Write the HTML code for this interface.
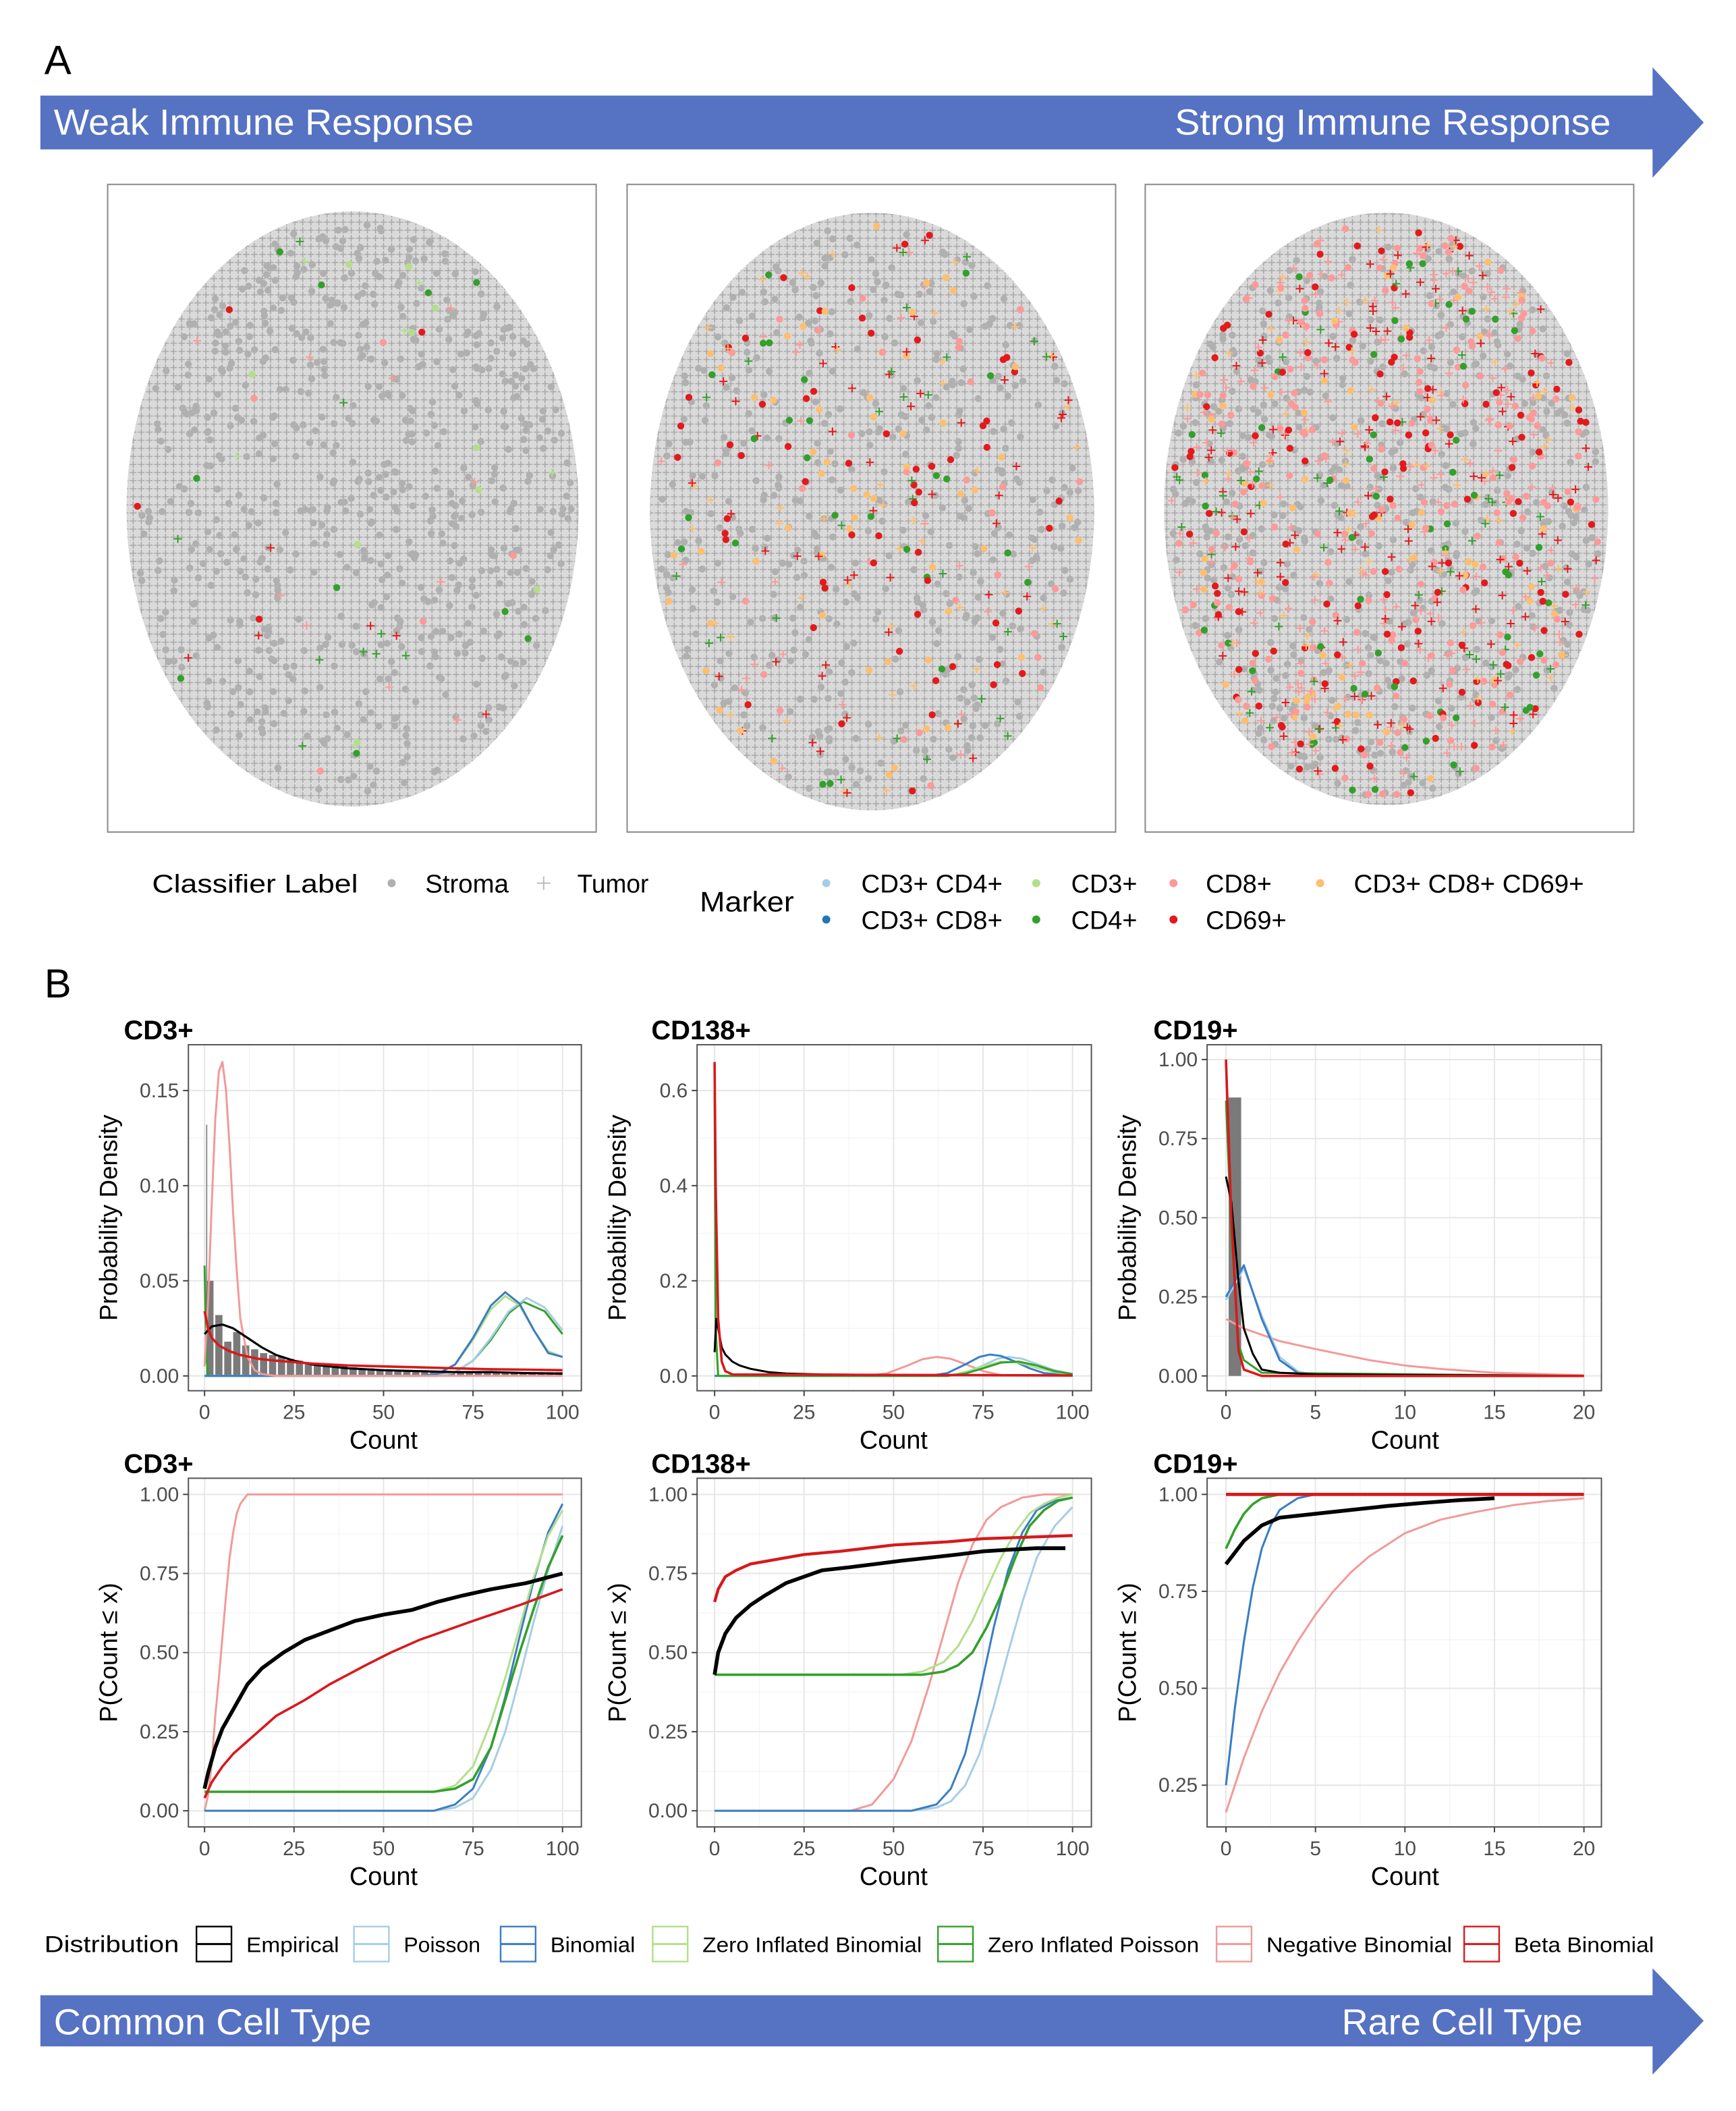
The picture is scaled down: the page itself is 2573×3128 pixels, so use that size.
<!DOCTYPE html>
<html><head><meta charset="utf-8"><style>
html,body{margin:0;padding:0;background:#fff;}
svg{display:block;font-family:"Liberation Sans",sans-serif;}
</style></head><body>
<svg id="fig" width="2573" height="3128" viewBox="0 0 1290 1568" preserveAspectRatio="none" xmlns="http://www.w3.org/2000/svg">
<defs>
<pattern id="tum" width="6" height="6" patternUnits="userSpaceOnUse">
<path d="M3 0.5v5M0.5 3h5" stroke="#a8a8a8" stroke-width="0.8"/>
</pattern>
</defs>
<text x="33" y="55" font-size="30">A</text>
<g>
<polygon points="30,71 1228,71 1228,50 1266,91 1228,132 1228,111 30,111" fill="#5572c3"/>
<text x="40" y="100" font-size="27" fill="#fff" textLength="312" lengthAdjust="spacingAndGlyphs">Weak Immune Response</text>
<text x="873" y="100" font-size="27" fill="#fff" textLength="324" lengthAdjust="spacingAndGlyphs">Strong Immune Response</text>
</g>
<g id="scatters"></g>
<g font-size="19">
<text x="113" y="663" textLength="153" lengthAdjust="spacingAndGlyphs">Classifier Label</text>
<circle cx="291" cy="656" r="3" fill="#b0b0b0"/><text x="316" y="663" textLength="62" lengthAdjust="spacingAndGlyphs">Stroma</text>
<path d="M404 651v10M399 656h10" stroke="#bbb" stroke-width="1"/><text x="429" y="663" textLength="53" lengthAdjust="spacingAndGlyphs">Tumor</text>
<text x="520" y="677" font-size="21" textLength="70" lengthAdjust="spacingAndGlyphs">Marker</text>
<circle cx="614" cy="656" r="3" fill="#a6cee3"/><text x="640" y="663" textLength="105" lengthAdjust="spacingAndGlyphs">CD3+ CD4+</text>
<circle cx="614" cy="683" r="3" fill="#1f78b4"/><text x="640" y="690" textLength="105" lengthAdjust="spacingAndGlyphs">CD3+ CD8+</text>
<circle cx="770" cy="656" r="3" fill="#b2df8a"/><text x="796" y="663" textLength="49" lengthAdjust="spacingAndGlyphs">CD3+</text>
<circle cx="770" cy="683" r="3" fill="#33a02c"/><text x="796" y="690" textLength="49" lengthAdjust="spacingAndGlyphs">CD4+</text>
<circle cx="872" cy="656" r="3" fill="#fb9a99"/><text x="896" y="663" textLength="49" lengthAdjust="spacingAndGlyphs">CD8+</text>
<circle cx="872" cy="683" r="3" fill="#e31a1c"/><text x="896" y="690" textLength="60" lengthAdjust="spacingAndGlyphs">CD69+</text>
<circle cx="981" cy="656" r="3" fill="#fdbf6f"/><text x="1006" y="663" textLength="171" lengthAdjust="spacingAndGlyphs">CD3+ CD8+ CD69+</text>
</g>
<text x="33" y="741" font-size="30">B</text>
<g id="plots"></g>
<g font-size="16">
<text x="33" y="1450" font-size="17" textLength="100" lengthAdjust="spacingAndGlyphs">Distribution</text>
<g id="legb"></g>
</g>
<g>
<polygon points="30,1482 1228,1482 1228,1462 1266,1501 1228,1541 1228,1520 30,1520" fill="#5572c3"/>
<text x="40" y="1511" font-size="27" fill="#fff" textLength="236" lengthAdjust="spacingAndGlyphs">Common Cell Type</text>
<text x="997" y="1511" font-size="27" fill="#fff" textLength="179" lengthAdjust="spacingAndGlyphs">Rare Cell Type</text>
</g>
</svg>
<script>
const NS="http://www.w3.org/2000/svg";
const COL={emp:"#000",poi:"#a6cee3",bin:"#3a7dc4",zib:"#b2df8a",zip:"#33a02c",nb:"#f19a99",bb:"#d7191c"};
// ---- Panel data ----
const p1Hist=[0.05,0.032,0.018,0.023,0.016,0.014,0.012,0.011,0.010,0.009,0.008,0.007,0.0065,0.006,0.0055,0.005,0.0045,0.004,0.004,0.0035,0.0035,0.003,0.003,0.003,0.003,0.0028,0.0028,0.0025,0.0025,0.0025,0.0025,0.0022,0.0022,0.002,0.002,0.002,0.002,0.002,0.002,0.002];
const p1EmpX=[0,2,5,8,12,16,20,25,30,40,50,60,70,80,90,100];
const p1EmpY=[0.022,0.026,0.027,0.025,0.02,0.015,0.011,0.008,0.006,0.004,0.003,0.0025,0.002,0.002,0.0015,0.0012];
const p1NbX=[0,1,2,3,4,5,6,7,8,9,10,12,14,16,20,100];
const p1NbY=[0.005,0.04,0.09,0.135,0.16,0.165,0.15,0.12,0.085,0.055,0.03,0.01,0.003,0.001,0,0];
const p1BbX=[0,1,2,4,7,10,15,20,30,40,50,60,70,80,90,100];
const p1BbY=[0.034,0.025,0.02,0.016,0.013,0.011,0.009,0.008,0.0065,0.0055,0.005,0.0045,0.004,0.0035,0.0033,0.003];
const p1BinX=[0,60,65,70,75,80,84,88,92,96,100];
const p1BinY=[0,0,0.001,0.006,0.02,0.037,0.044,0.038,0.024,0.012,0.01];
const p1ZibY=[0,0,0.001,0.006,0.019,0.035,0.042,0.037,0.024,0.013,0.01];
const p1PoiX=[0,65,70,75,80,85,90,95,100];
const p1PoiY=[0,0,0.002,0.008,0.02,0.034,0.041,0.036,0.024];
const p1ZipX=[0,0.5,1,65,70,75,80,85,89,95,100];
const p1ZipY=[0.058,0.01,0,0,0.002,0.008,0.019,0.033,0.039,0.034,0.022];

const p2EmpX=[0,0.5,1,2,3,5,7,10,15,20,30,50,75,100];
const p2EmpY=[0.05,0.12,0.1,0.06,0.045,0.03,0.022,0.015,0.008,0.005,0.003,0.002,0.002,0.001];
const p2BbX=[0,0.3,1,2,3,5,100];
const p2BbY=[0.66,0.4,0.12,0.03,0.01,0.003,0.001];
const p2NbX=[0,42,48,54,58,62,66,70,75,80,100];
const p2NbY=[0,0,0.005,0.022,0.035,0.04,0.036,0.025,0.01,0.002,0];
const p2BinX=[0,60,65,70,74,77,80,84,88,92,100];
const p2BinY=[0,0,0.006,0.024,0.04,0.045,0.042,0.03,0.016,0.006,0.001];
const p2PoiX=[0,65,70,75,79,82,86,90,95,100];
const p2PoiY=[0,0,0.006,0.022,0.036,0.04,0.036,0.025,0.012,0.004];
const p2ZipX=[0,0.3,1,65,70,75,80,85,90,95,100];
const p2ZipY=[0.6,0.1,0,0,0.005,0.016,0.028,0.03,0.022,0.01,0.004];
const p2ZibY=[0.6,0.1,0,0,0.008,0.02,0.03,0.028,0.017,0.008,0.003];

const p3HistX=[0.15];const p3HistW=[0.7];const p3HistY=[0.88];
const p3BbX=[0,0.3,0.7,1,2,20];const p3BbY=[1.0,0.5,0.08,0.02,0,0];
const p3ZipX=[0,0.3,0.7,1,2,20];const p3ZipY=[0.87,0.45,0.1,0.05,0.01,0];
const p3EmpX=[0,0.3,0.7,1,1.5,2,3,5,20];const p3EmpY=[0.63,0.55,0.3,0.15,0.07,0.02,0.01,0.005,0];
const p3BinX=[0,1,2,3,4,5,20];const p3BinY=[0.25,0.35,0.18,0.05,0.01,0,0];
const p3PoiY=[0.24,0.34,0.19,0.06,0.015,0,0];
const p3NbX=[0,1,2,3,5,8,10,12,15,20];const p3NbY=[0.18,0.15,0.13,0.11,0.085,0.05,0.033,0.022,0.01,0.002];

const c1EmpX=[0,1,3,5,7,10,12,16,22,28,35,42,50,58,65,72,80,90,100];
const c1EmpY=[0.07,0.12,0.2,0.26,0.3,0.36,0.4,0.45,0.5,0.54,0.57,0.6,0.62,0.635,0.66,0.68,0.7,0.72,0.75];
const c1BbX=[0,2,5,8,12,16,20,28,35,45,52,60,75,88,100];
const c1BbY=[0.04,0.09,0.14,0.18,0.22,0.26,0.3,0.35,0.4,0.46,0.5,0.54,0.6,0.65,0.7];
const c1NbX=[0,1,2,3,4,5,6,7,8,9,10,12,100];
const c1NbY=[0,0.05,0.15,0.3,0.42,0.55,0.68,0.8,0.88,0.94,0.97,1,1];
const c1ZipX=[0,64,70,75,80,84,88,92,96,100];
const c1ZipY=[0.06,0.06,0.07,0.1,0.2,0.35,0.5,0.64,0.77,0.87];
const c1ZibY=[0.06,0.06,0.08,0.14,0.28,0.42,0.58,0.74,0.87,0.95];
const c1BinY=[0,0,0.02,0.07,0.2,0.36,0.55,0.73,0.88,0.97];
const c1PoiY=[0,0,0.01,0.04,0.13,0.25,0.42,0.6,0.76,0.9];

const c2EmpX=[0,1,3,6,10,14,20,25,30,38,45,52,60,68,75,82,90,98];
const c2EmpY=[0.43,0.5,0.56,0.61,0.65,0.68,0.72,0.74,0.76,0.77,0.78,0.79,0.8,0.81,0.82,0.825,0.83,0.83];
const c2BbX=[0,1,3,6,10,15,25,35,50,65,75,88,100];
const c2BbY=[0.66,0.7,0.74,0.76,0.78,0.79,0.81,0.82,0.84,0.85,0.86,0.865,0.87];
const c2NbX=[0,38,44,50,55,60,64,68,72,76,80,86,92,100];
const c2NbY=[0,0,0.02,0.1,0.22,0.4,0.56,0.72,0.84,0.92,0.96,0.99,1,1];
const c2GX=[0,52,58,64,68,72,76,80,84,88,92,96,100];
const c2ZibY=[0.43,0.43,0.44,0.47,0.52,0.6,0.7,0.8,0.88,0.94,0.97,0.99,1];
const c2ZipY=[0.43,0.43,0.43,0.44,0.46,0.5,0.58,0.68,0.8,0.9,0.95,0.98,0.99];
const c2BX=[0,55,62,66,70,74,78,82,86,90,95,100];
const c2BinY=[0,0,0.02,0.07,0.18,0.37,0.58,0.76,0.88,0.95,0.98,0.99];
const c2PoiY=[0,0,0.01,0.03,0.08,0.18,0.33,0.5,0.66,0.8,0.9,0.96];

const c3RedX=[0,20];const c3RedY=[1,1];
const c3ZipX=[0,0.5,1,1.5,2,3,5];const c3ZipY=[0.86,0.91,0.95,0.975,0.99,1,1];
const c3EmpX=[0,0.5,1,1.5,2,3,4,5,7,9,11,13,15];
const c3EmpY=[0.82,0.85,0.88,0.9,0.92,0.94,0.945,0.95,0.96,0.97,0.978,0.985,0.99];
const c3BinX=[0,0.5,1,1.5,2,2.5,3,4,5];const c3BinY=[0.25,0.45,0.62,0.76,0.86,0.92,0.96,0.99,1];
const c3NbX=[0,1,2,3,4,5,6,7,8,9,10,12,14,16,18,20];
const c3NbY=[0.18,0.32,0.44,0.54,0.62,0.69,0.75,0.8,0.84,0.87,0.9,0.935,0.955,0.972,0.983,0.99];

const panels=[
 {name:"cd3-density",title:"CD3+",tx:92,box:[140,776,432,1033],x:[0,100,152,418],y:[0,0.15,1022,810],xt:[0,25,50,75,100],xl:["0","25","50","75","100"],yt:[0,0.05,0.1,0.15],yl:["0.00","0.05","0.10","0.15"],yTitle:"Probability Density",
  hist:{x:p1Hist.map((v,i)=>i*2.5+0.5),w:p1Hist.map(()=>2),y:p1Hist},spike:{x:0.6,y:0.132},
  series:[["zib",p1BinX,p1ZibY,1.5],["zip",p1ZipX,p1ZipY,1.5],["poi",p1PoiX,p1PoiY,1.5],["bin",p1BinX,p1BinY,1.5],["nb",p1NbX,p1NbY,1.5],["emp",p1EmpX,p1EmpY,1.6],["bb",p1BbX,p1BbY,1.8]]},
 {name:"cd138-density",title:"CD138+",tx:484,box:[518,776,811,1033],x:[0,100,531,797],y:[0,0.6,1022,810],xt:[0,25,50,75,100],xl:["0","25","50","75","100"],yt:[0,0.2,0.4,0.6],yl:["0.0","0.2","0.4","0.6"],yTitle:"Probability Density",
  series:[["nb",p2NbX,p2NbY,1.5],["poi",p2PoiX,p2PoiY,1.5],["bin",p2BinX,p2BinY,1.5],["zib",p2ZipX,p2ZibY,1.5],["zip",p2ZipX,p2ZipY,1.5],["emp",p2EmpX,p2EmpY,1.5],["bb",p2BbX,p2BbY,1.8]]},
 {name:"cd19-density",title:"CD19+",tx:857,box:[897,776,1190,1033],x:[0,20,911,1177],y:[0,1,1022,787],xt:[0,5,10,15,20],xl:["0","5","10","15","20"],yt:[0,0.25,0.5,0.75,1],yl:["0.00","0.25","0.50","0.75","1.00"],yTitle:"Probability Density",
  hist:{x:p3HistX,w:p3HistW,y:p3HistY},
  series:[["nb",p3NbX,p3NbY,1.5],["poi",p3BinX,p3PoiY,1.5],["bin",p3BinX,p3BinY,1.5],["zip",p3ZipX,p3ZipY,1.5],["emp",p3EmpX,p3EmpY,1.5],["bb",p3BbX,p3BbY,1.8]]},
 {name:"cd3-cdf",title:"CD3+",tx:92,box:[140,1098,432,1357],x:[0,100,152,418],y:[0,1,1345,1110],xt:[0,25,50,75,100],xl:["0","25","50","75","100"],yt:[0,0.25,0.5,0.75,1],yl:["0.00","0.25","0.50","0.75","1.00"],yTitle:"P(Count \u2264 x)",
  series:[["nb",c1NbX,c1NbY,1.5],["poi",c1ZipX,c1PoiY,1.5],["bin",c1ZipX,c1BinY,1.5],["zib",c1ZipX,c1ZibY,1.5],["zip",c1ZipX,c1ZipY,1.8],["bb",c1BbX,c1BbY,1.8],["emp",c1EmpX,c1EmpY,2.8]]},
 {name:"cd138-cdf",title:"CD138+",tx:484,box:[518,1098,811,1357],x:[0,100,531,797],y:[0,1,1345,1110],xt:[0,25,50,75,100],xl:["0","25","50","75","100"],yt:[0,0.25,0.5,0.75,1],yl:["0.00","0.25","0.50","0.75","1.00"],yTitle:"P(Count \u2264 x)",
  series:[["nb",c2NbX,c2NbY,1.5],["poi",c2BX,c2PoiY,1.5],["bin",c2BX,c2BinY,1.5],["zib",c2GX,c2ZibY,1.5],["zip",c2GX,c2ZipY,1.8],["emp",c2EmpX,c2EmpY,2.8],["bb",c2BbX,c2BbY,2.2]]},
 {name:"cd19-cdf",title:"CD19+",tx:857,box:[897,1098,1190,1357],x:[0,20,911,1177],y:[0.25,1,1326,1110],xt:[0,5,10,15,20],xl:["0","5","10","15","20"],yt:[0.25,0.5,0.75,1],yl:["0.25","0.50","0.75","1.00"],yTitle:"P(Count \u2264 x)",
  series:[["nb",c3NbX,c3NbY,1.5],["poi",c3BinX,c3BinY,1.5],["bin",c3BinX,c3BinY,1.5],["zib",c3ZipX,c3ZipY,1.5],["zip",c3ZipX,c3ZipY,1.8],["emp",c3EmpX,c3EmpY,2.8],["bb",c3RedX,c3RedY,2.4]]}
];
function mk(tag,attrs,parent){const e=document.createElementNS(NS,tag);for(const k in attrs)e.setAttribute(k,attrs[k]);if(parent)parent.appendChild(e);return e;}
const plots=document.getElementById('plots');
panels.forEach(p=>{
 const g=mk('g',{},plots);
 
 
 const [L,T,R,B]=p.box;
 const sx=v=>p.x[2]+(v-p.x[0])*(p.x[3]-p.x[2])/(p.x[1]-p.x[0]);
 const sy=v=>p.y[2]+(v-p.y[0])*(p.y[3]-p.y[2])/(p.y[1]-p.y[0]);
 const clip='clip-'+p.name;
 const cp=mk('clipPath',{id:clip},g);mk('rect',{x:L,y:T,width:R-L,height:B-T},cp);
 const dx=p.xt[1]-p.xt[0],dy=p.yt[1]-p.yt[0];
 for(let v=p.xt[0]-dx/2;v<=p.xt[p.xt.length-1]+dx;v+=dx){const X=sx(v);if(X>L&&X<R)mk('line',{x1:X,x2:X,y1:T,y2:B,stroke:'#f3f3f3','stroke-width':0.6},g);}
 for(let v=p.yt[0]-dy*1.5;v<=p.yt[p.yt.length-1]+dy;v+=dy/2){const Y=sy(v);if(Y>T&&Y<B)mk('line',{x1:L,x2:R,y1:Y,y2:Y,stroke:'#f3f3f3','stroke-width':0.6},g);}
 p.xt.forEach(v=>mk('line',{x1:sx(v),x2:sx(v),y1:T,y2:B,stroke:'#e6e6e6','stroke-width':1},g));
 p.yt.forEach(v=>mk('line',{x1:L,x2:R,y1:sy(v),y2:sy(v),stroke:'#e6e6e6','stroke-width':1},g));
 const pg=mk('g',{'clip-path':'url(#'+clip+')'},g);
 if(p.hist){p.hist.y.forEach((v,i)=>{const r=mk('rect',{x:sx(p.hist.x[i]),y:sy(v),width:sx(p.hist.x[i]+p.hist.w[i])-sx(p.hist.x[i]),height:sy(0)-sy(v),fill:'#7a7a7a'},pg);
  
  });}
 if(p.spike){const s=mk('line',{x1:sx(p.spike.x),x2:sx(p.spike.x),y1:sy(0),y2:sy(p.spike.y),stroke:'#777','stroke-width':0.8},pg);
  
  }
 p.series.forEach(s=>{const [k,xs,ys,w]=s;const d=xs.map((x,i)=>(i?'L':'M')+sx(x).toFixed(2)+' '+sy(ys[i]).toFixed(2)).join('');
  const path=mk('path',{d:d,fill:'none',stroke:COL[k],'stroke-width':w,'stroke-linejoin':'round'},pg);
  
  });
 mk('rect',{x:L,y:T,width:R-L,height:B-T,fill:'none',stroke:'#555','stroke-width':1},g);
 p.xt.forEach((v,i)=>{mk('line',{x1:sx(v),x2:sx(v),y1:B,y2:B+4,stroke:'#444'},g);
  const t=mk('text',{x:sx(v),y:B+21,'font-size':15,fill:'#4d4d4d','text-anchor':'middle'},g);t.textContent=p.xl[i];
  
  });
 p.yt.forEach((v,i)=>{mk('line',{x1:L-4,x2:L,y1:sy(v),y2:sy(v),stroke:'#444'},g);
  const t=mk('text',{x:L-7,y:sy(v)+5,'font-size':15,fill:'#4d4d4d','text-anchor':'end'},g);t.textContent=p.yl[i];
  
  });
 const xt=mk('text',{x:(sx(p.xt[0])+sx(p.xt[p.xt.length-1]))/2,y:B+43,'font-size':19,'text-anchor':'middle'},g);xt.textContent='Count';
 
 
 const yc=(T+B)/2, yx=L-53;
 const yt=mk('text',{x:yx,y:yc,'font-size':18.5,'text-anchor':'middle',transform:'rotate(-90 '+yx+' '+yc+')'},g);
 yt.textContent=p.yTitle;
 
 
 const tt=mk('text',{x:p.tx,y:T-4,'font-size':20,'font-weight':'bold'},g);tt.textContent=p.title;
 
 
});
const legNames=["Empirical","Poisson","Binomial","Zero Inflated Binomial","Zero Inflated Poisson","Negative Binomial","Beta Binomial"];
const legKeys=["emp","poi","bin","zib","zip","nb","bb"];
const legX=[146,263,372,485,697,904,1088];
const legW=[69,57,63,163,157,138,104];
const lb=document.getElementById('legb');
legNames.forEach((n,i)=>{const g=mk('g',{},lb);
 
 
 mk('rect',{x:legX[i],y:1431,width:26,height:26,fill:'#fff',stroke:COL[legKeys[i]],'stroke-width':1.2},g);
 mk('line',{x1:legX[i],x2:legX[i]+26,y1:1444,y2:1444,stroke:COL[legKeys[i]],'stroke-width':1.5},g);
 const t=mk('text',{x:legX[i]+37,y:1450,'font-size':16,textLength:legW[i],lengthAdjust:'spacingAndGlyphs'},g);t.textContent=n;});
// tissue scatter texture (decorative)
const sc=document.getElementById('scatters');
const tissues=[{name:'weak',box:[80,137,443,618],c:[262,378],r:[168,221],nCol:60,nStr:700,cols:['#b2df8a','#33a02c','#fb9a99','#e31a1c']},
 {name:'medium',box:[466,137,829,618],c:[648,380],r:[165,222],nCol:320,nStr:450,cols:['#e31a1c','#33a02c','#fdbf6f','#fb9a99','#e31a1c','#fdbf6f']},
 {name:'strong',box:[851,137,1214,618],c:[1030,378],r:[165,220],nCol:900,nStr:500,cols:['#fb9a99','#fb9a99','#fb9a99','#e31a1c','#fdbf6f','#33a02c','#e31a1c']}];
let seed=7;function rnd(){seed=(seed*16807)%2147483647;return seed/2147483647;}
tissues.forEach(t=>{const g=mk('g',{},sc);
 
 
 mk('rect',{x:t.box[0],y:t.box[1],width:t.box[2]-t.box[0],height:t.box[3]-t.box[1],fill:'#fff',stroke:'#888','stroke-width':1},g);
 mk('ellipse',{cx:t.c[0],cy:t.c[1],rx:t.r[0],ry:t.r[1],fill:'#dadada'},g);
 mk('ellipse',{cx:t.c[0],cy:t.c[1],rx:t.r[0],ry:t.r[1],fill:'url(#tum)'},g);
 function pt(){let a=rnd()*Math.PI*2,r=Math.sqrt(rnd())*0.97;return [t.c[0]+Math.cos(a)*r*t.r[0],t.c[1]+Math.sin(a)*r*t.r[1]];}
 for(let i=0;i<t.nStr;i++){const [x,y]=pt();mk('circle',{cx:x,cy:y,r:2.6,fill:'#b0b0b0'},g);}
 for(let i=0;i<t.nCol;i++){const [x,y]=pt();const c=t.cols[Math.floor(rnd()*t.cols.length)];
  if(rnd()<0.5)mk('circle',{cx:x,cy:y,r:2.6,fill:c},g);else mk('path',{d:`M${x-3} ${y}h6M${x} ${y-3}v6`,stroke:c,'stroke-width':1},g);}
});
</script>
</body></html>
